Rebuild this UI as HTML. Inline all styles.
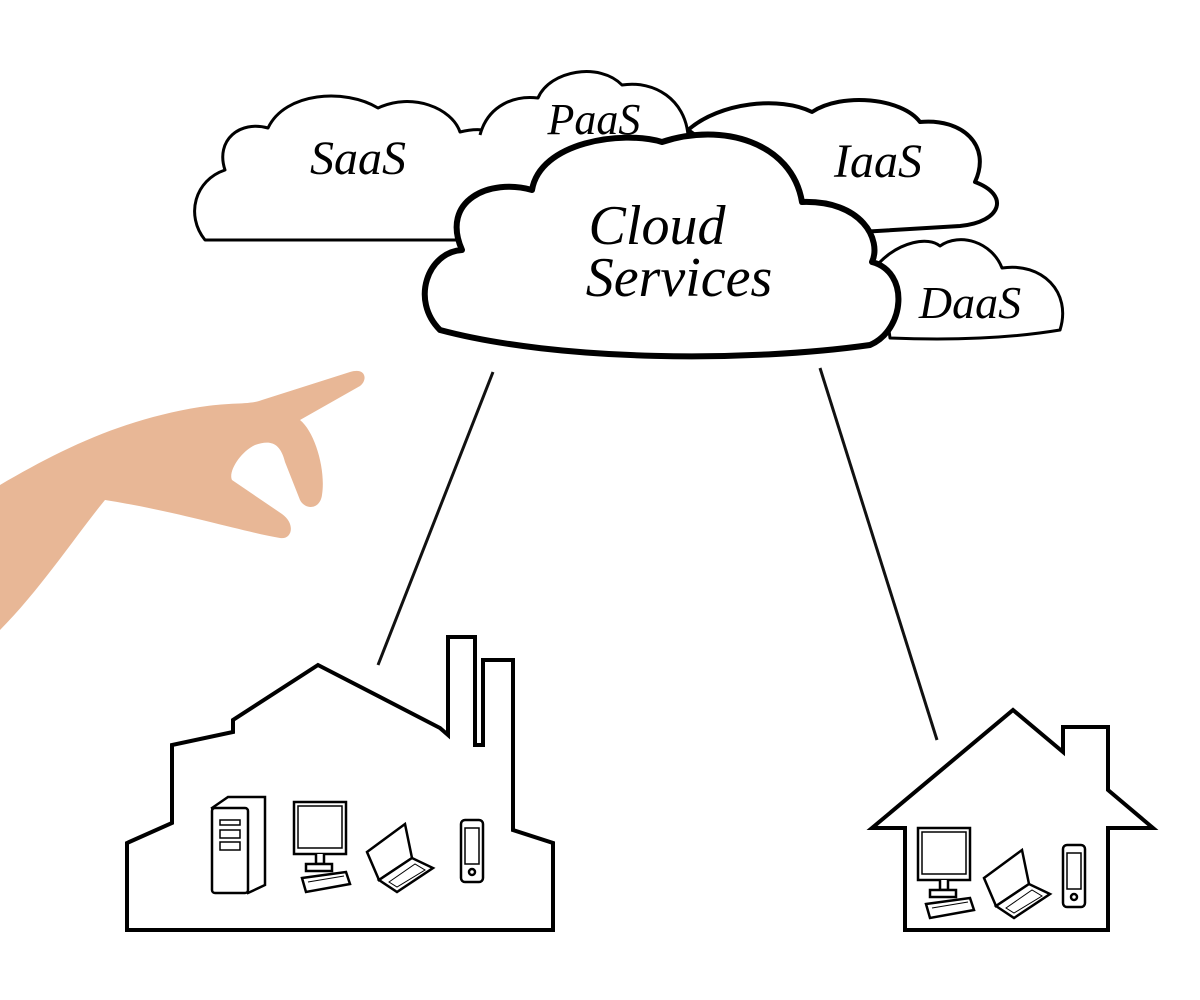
<!DOCTYPE html>
<html><head><meta charset="utf-8"><style>html,body{margin:0;padding:0;background:#fff}svg{display:block}</style></head>
<body>
<svg width="1200" height="1000" viewBox="0 0 1200 1000" xmlns="http://www.w3.org/2000/svg">
<rect width="1200" height="1000" fill="#fff"/>
<defs>
<g id="mon" fill="#fff" stroke="#000" stroke-width="2.5">
 <rect x="0" y="0" width="52" height="52"/><rect x="4" y="4" width="44" height="42" stroke-width="1.5"/>
 <path d="M22 52 L22 62 L30 62 L30 52"/><rect x="12" y="62" width="26" height="7"/>
 <path d="M8 76 L52 70 L56 82 L12 90 Z"/><path d="M14 80 L50 74" stroke-width="1"/>
</g>
<g id="lap" fill="#fff" stroke="#000" stroke-width="2.5">
 <path d="M0 28 L38 0 L45 34 L12 56 Z"/>
 <path d="M12 56 L45 34 L66 44 L30 68 Z"/>
 <path d="M22 58 L48 40 L58 46 L30 63 Z" stroke-width="1"/>
</g>
<g id="ph" fill="#fff" stroke="#000" stroke-width="2.5">
 <rect x="0" y="0" width="22" height="62" rx="4"/><rect x="4" y="8" width="14" height="36" stroke-width="1.5"/>
 <circle cx="11" cy="52" r="3"/>
</g>
</defs>
<!-- hand -->
<path d="M0,485 C60,450 120,420 200,407 C230,402 250,405 262,400 L350,372 C366,367 368,380 360,386 L300,420 C315,432 326,470 322,495 C320,510 305,510 300,500 L285,462 C280,442 270,440 255,445 C240,452 228,472 232,480 L282,514 C296,524 292,540 280,538 C240,531 180,512 105,500 C80,530 40,590 0,630 Z" fill="#e8b796"/>
<!-- lines -->
<line x1="493" y1="372" x2="378" y2="665" stroke="#111" stroke-width="3"/>
<line x1="820" y1="368" x2="937" y2="740" stroke="#111" stroke-width="3"/>
<!-- clouds back -->
<g fill="#fff" stroke="#000" stroke-linejoin="round">
<path stroke-width="3" d="M205 240 C185 215 195 180 225 170 C215 140 240 120 268 128 C285 92 345 88 378 108 C412 92 452 108 460 132 C505 120 535 155 520 190 L470 240 Z"/>
<path stroke="none" d="M480 135 C488 105 515 95 538 98 C550 70 600 62 622 85 C655 80 685 100 688 135 L600 190 L500 190 Z"/>
<path stroke-width="3" fill="none" d="M480 135 C488 105 515 95 538 98 C550 70 600 62 622 85 C655 80 685 100 688 135"/>
<path stroke-width="4" d="M688 130 C720 102 780 96 812 112 C842 92 902 98 920 122 C962 118 992 145 975 182 C1010 195 1002 222 960 226 L860 232 L760 180 Z"/>
<path stroke-width="3" d="M880 262 C900 242 928 236 940 246 C960 232 992 242 1002 268 C1042 262 1072 292 1060 330 C1000 340 940 340 890 338 Z"/>
<path stroke-width="6" d="M440 330 C410 300 428 252 462 250 C440 200 490 178 532 190 C540 142 622 130 662 142 C722 122 792 142 802 202 C862 200 882 240 872 262 C910 272 905 330 870 345 C750 362 560 362 440 330 Z"/>
</g>
<g font-family="'Liberation Serif',serif" font-style="italic" fill="#000" text-anchor="middle">
<text x="358" y="174" font-size="48">SaaS</text>
<text x="594" y="134" font-size="44">PaaS</text>
<text x="878" y="177" font-size="48">IaaS</text>
<text x="657" y="244" font-size="56">Cloud</text>
<text x="679" y="296" font-size="56">Services</text>
<text x="970" y="318" font-size="46">DaaS</text>
</g>
<!-- factory -->
<path d="M127,930 L127,843 L172,823 L172,745 L233,732 L233,720 L318,665 L440,728 L448,735 L448,637 L475,637 L475,745 L483,745 L483,660 L513,660 L513,830 L553,843 L553,930 Z" fill="none" stroke="#000" stroke-width="4" stroke-linejoin="miter"/>
<!-- tower -->
<g fill="#fff" stroke="#000" stroke-width="2.5">
<path d="M212 808 L228 797 L265 797 L265 885 L248 893 Z"/>
<rect x="212" y="808" width="36" height="85" rx="3"/>
<rect x="220" y="820" width="20" height="5" stroke-width="1.5"/><rect x="220" y="830" width="20" height="8" stroke-width="1.5"/><rect x="220" y="842" width="20" height="8" stroke-width="1.5"/>
</g>
<use href="#mon" x="294" y="802"/>
<use href="#lap" x="367" y="824"/>
<use href="#ph" x="461" y="820"/>
<!-- house -->
<path d="M905,930 L905,828 L872,828 L1013,710 L1063,752 L1063,727 L1108,727 L1108,790 L1153,828 L1108,828 L1108,930 Z" fill="none" stroke="#000" stroke-width="4"/>
<use href="#mon" x="918" y="828"/>
<use href="#lap" x="984" y="850"/>
<use href="#ph" x="1063" y="845"/>
</svg>
</body></html>
